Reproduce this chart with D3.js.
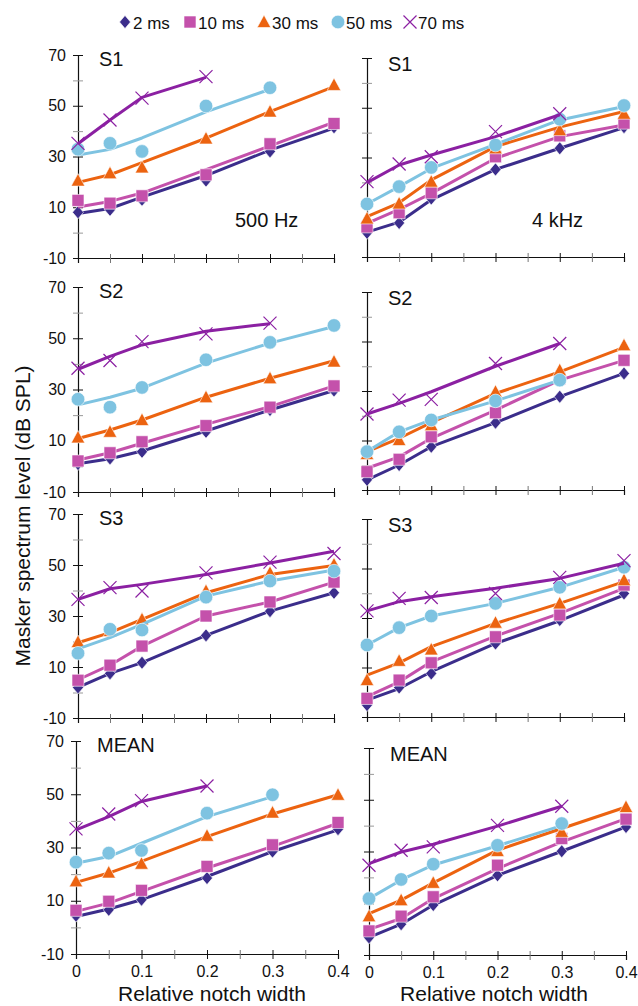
<!DOCTYPE html>
<html lang="en">
<head>
<meta charset="utf-8">
<title>Masker level vs notch width</title>
<script src="https://d3js.org/d3.v7.min.js"></script>
<style>
  body { margin: 0; background: #fff; font-family: "Liberation Sans", Arial, sans-serif; }
  .tick text { font-family: "Liberation Sans", Arial, sans-serif; font-size: 16px; fill: #111; }
</style>
</head>
<body>
<script>
// ---- data (dB SPL) ----
const widths = [0, 0.05, 0.1, 0.2, 0.3, 0.4];
const durations = ["2 ms", "10 ms", "30 ms", "50 ms", "70 ms"];
const subjects = ["S1", "S2", "S3", "MEAN"];
const freqs = ["500 Hz", "4 kHz"];

// measured thresholds, one row per duration (2,10,30,50,70 ms)
const s1Low = [[8, 9, 13, 20.5, 32, 41.5], [12.7, 11.6, 14.5, 22.8, 35, 43], [20.5, 23.4, 25.7, 37.1, 47.7, 58.2], [32.9, 35.2, 32, 49.9, 57.1], [35.2, 44.4, 53, 61.5]];
const s1High = [[-0.3, 3.7, 13.5, 25.2, 33.7, 42.2], [2.1, 7.8, 15.8, 30.3, 38.7, 43.8], [5.5, 11.5, 20.3, 33.7, 41, 47.6], [11.3, 18.3, 26, 35, 45.4, 50.9], [20.3, 27.4, 30.3, 40.4, 47.6]];
const s2Low = [[0.9, 3.1, 5.7, 13.5, 22, 29.6], [2.1, 5.3, 9.6, 15.9, 23.1, 31.4], [11.3, 13.5, 18.1, 27, 34.4, 40.9], [26.2, 23.1, 30.8, 41.6, 48.4, 55], [38.3, 41.3, 48.7, 51.7, 55.9]];
const s2High = [[-5.9, 0.1, 7.5, 17.2, 27.7, 37.1], [-2.6, 2.4, 11.5, 21.2, 35, 42.4], [4.5, 10.2, 16.2, 29.7, 38.4, 48.5], [5.5, 13.5, 18.3, 26, 34.4], [20.7, 26.3, 26.6, 41.1, 49.2]];
const s3Low = [[2, 7.5, 11.7, 22.4, 31.9, 39.1], [4.8, 10.7, 18.2, 30, 35.5, 43.3], [19.8, 24.1, 28.7, 39.8, 46.9, 50.2], [15.4, 24.8, 24.5, 37.4, 43.7, 47.6], [36.5, 41.1, 39.8, 46.9, 51.1, 54.5]];
const s3High = [[-5.2, 1.9, 7.6, 19.7, 29.2, 39.9], [-2.5, 4.9, 11.9, 22.4, 31.2, 43.3], [4.9, 12.7, 17.3, 28.1, 35.9, 45.3], [19.1, 26.1, 30.8, 35.9, 42.4, 50.5], [32.9, 37.9, 38.3, 39.9, 46.4, 53.2]];
const meanLow = [[4.4, 6.6, 10.4, 18.5, 28.5, 36.9], [6.4, 9.8, 13.9, 22.9, 31, 39.4], [17.3, 20.6, 23.9, 34.4, 43.1, 49.8], [24.5, 27.9, 28.9, 42.9, 49.8], [37, 42.6, 47.6, 53.1]];
const meanHigh = [[-3.2, 1.9, 9.3, 20.8, 30.1, 39.5], [-0.7, 5, 12.5, 24.7, 35, 42.5], [5, 11.2, 17.9, 30.2, 37.6, 47.2], [11.8, 19.2, 25.1, 32.4, 40.8], [24.7, 30.5, 31.8, 40.1, 47.5]];

// model fits drawn as lines
const s1LowFit = [[7.5, 9.5, 14, 22.5, 32.5, 41.2], [10.1, 12.3, 15.6, 24.8, 34.2, 43.5], [19.8, 22.8, 27.6, 37.2, 47.7, 57.5], [30.6, 32.8, 37.3, 47.6, 56.5], [35, 44.4, 53.3, 61.2]];
const s1HighFit = [[0, 4, 13, 25.2, 33.7, 42], [3.5, 9.1, 15.6, 29.7, 38.4, 43.1], [6.2, 11.8, 21, 34.4, 42.2, 48.5], [11.3, 18.3, 25.6, 35.3, 45.1, 50.5], [19.9, 27, 31, 38.4, 47.2]];
const s2LowFit = [[1, 3, 6, 13.8, 22, 29.6], [2.5, 5.3, 9, 16.4, 23.3, 31.4], [10.9, 14.2, 18.1, 27, 34.4, 41.2], [24, 27, 30.5, 40.3, 48.1, 54.6], [37.9, 42.9, 47.4, 52.7, 55.7]];
const s2HighFit = [[-5.9, 0.1, 7.5, 17.2, 27.7, 37.1], [-1.2, 3.4, 10.9, 22.3, 34.4, 42.4], [5.5, 10.9, 17.2, 29, 37.7, 47.6], [5.5, 13.5, 18.3, 26, 34.4], [20.7, 25, 29.7, 40, 49.2]];
const s3LowFit = [[2, 7.5, 11.7, 22.4, 31.9, 39.1], [5, 10.7, 18.2, 30, 35.5, 43.3], [19.5, 23.5, 28.7, 39.1, 46.3, 49.8], [17.1, 21.5, 26.7, 37.8, 43.7, 48], [36.5, 40.7, 42.4, 46.3, 50.8, 55.4]];
const s3HighFit = [[-3.2, 1.5, 8.3, 19.7, 28.9, 39.3], [-1.8, 4.2, 12.3, 22.7, 31.9, 42], [6.9, 11.9, 18.4, 27.8, 35.9, 44.7], [19.1, 26.1, 30.8, 35.9, 42.4, 50.5], [32.9, 36.6, 38.6, 42, 46, 52.1]];
const meanLowFit = [[4.1, 6.9, 10.4, 19.1, 28.5, 36.6], [6, 9.1, 13.5, 22.3, 30.4, 39.1], [16.9, 20.4, 24.8, 34.1, 42.6, 49.8], [24.1, 26.6, 31.6, 41.6, 49.1], [36.6, 41.6, 47.3, 53.1]];
const meanHighFit = [[-3.2, 1.9, 9.3, 20.8, 30.1, 39.5], [-0.1, 4.1, 11.8, 23.4, 33.7, 42.7], [6, 11.2, 17.9, 30.5, 38.9, 47.2], [11.8, 19, 24.8, 32.2, 40], [25.3, 29.8, 32.8, 39.8, 47.5]];

const yTicks = [-10, 0, 10, 20, 30, 40, 50, 60, 70];
const xTicks = [0, 0.05, 0.1, 0.15, 0.2, 0.25, 0.3, 0.35, 0.4];

// ---- layout ----
const W = 638, H = 1006;
const colors = ["#3b2d8b", "#c451ab", "#ec6310", "#7ec3e1", "#8b20a2"];
const shapes = ["diamond", "square", "triangle", "circle", "x"];

const panels = [
  { obs: s1Low, fit: s1LowFit, row: 0, col: 0 }, { obs: s1High, fit: s1HighFit, row: 0, col: 1 },
  { obs: s2Low, fit: s2LowFit, row: 1, col: 0 }, { obs: s2High, fit: s2HighFit, row: 1, col: 1 },
  { obs: s3Low, fit: s3LowFit, row: 2, col: 0 }, { obs: s3High, fit: s3HighFit, row: 2, col: 1 },
  { obs: meanLow, fit: meanLowFit, row: 3, col: 0 }, { obs: meanHigh, fit: meanHighFit, row: 3, col: 1 }
];
// pixel extents of each panel's plot area
const colX = [[[78, 334], [78, 334], [78, 334], [76, 338]], [[367, 624], [367, 624], [367, 624], [369, 626]]];
const rowY = [[[55, 258], [287, 492], [514, 718], [741, 954]], [[58, 257], [292, 490], [519, 717], [748, 955]]];

const svg = d3.select("body").append("svg").attr("width", W).attr("height", H);

function markerPath(shape) {
  switch (shape) {
    case "diamond": return "M0,-6.5L5.5,0L0,6.5L-5.5,0Z";
    case "square": return "M-6,-6H6V6H-6Z";
    case "triangle": return "M0,-7L6.8,5.5H-6.8Z";
    case "circle": return d3.symbol(d3.symbolCircle, Math.PI * 6.8 * 6.8)();
    default: return "M-6.5,-6.5L6.5,6.5M-6.5,6.5L6.5,-6.5";
  }
}

function drawMarker(g, shape, color) {
  const p = g.append("path").attr("d", markerPath(shape));
  if (shape === "x") p.attr("fill", "none").attr("stroke", color).attr("stroke-width", 1.2);
  else p.attr("fill", color).attr("stroke", "#fff").attr("stroke-width", 0.6);
}

panels.forEach(p => {
  const [xa, xb] = colX[p.col][p.row];
  const [ya, yb] = rowY[p.col][p.row];
  const x = d3.scaleLinear().domain([0, 0.4]).range([xa, xb]);
  const y = d3.scaleLinear().domain([-10, 70]).range([yb, ya]);
  const g = svg.append("g");

  // y axis
  const yAxis = g.append("g").attr("transform", `translate(${xa},0)`)
    .call(d3.axisLeft(y).tickValues(yTicks).tickSize(5)
      .tickFormat(d => (p.col === 0 && (d + 10) % 20 === 0) ? d : ""));
  yAxis.select(".domain").attr("stroke", "#111").attr("stroke-width", 1.2);
  yAxis.selectAll(".tick line").attr("x1", 5).attr("x2", -5)
    .attr("stroke", d => (d + 10) % 20 === 0 ? "#111" : "#999");
  yAxis.selectAll(".tick text").attr("x", -12);

  // x axis
  const xAxis = g.append("g").attr("transform", `translate(0,${yb})`)
    .call(d3.axisBottom(x).tickValues(xTicks).tickSize(5)
      .tickFormat(d => (p.row === 3 && Math.round(d * 100) % 10 === 0) ? d3.format("")(d) : ""));
  xAxis.select(".domain").attr("stroke", "#111").attr("stroke-width", 1.2);
  xAxis.selectAll(".tick line").attr("y1", -4).attr("y2", 5)
    .attr("stroke", d => Math.round(d * 100) % 10 === 0 ? "#111" : "#777");
  xAxis.selectAll(".tick text").attr("y", 12);

  // panel labels
  g.append("text").attr("x", xa + 21).attr("y", ya + 11 + (p.col === 1 ? 2 : 0))
    .attr("font-size", 20).attr("fill", "#111").text(subjects[p.row]);
  if (p.row === 0) {
    g.append("text").attr("x", p.col === 0 ? 235 : 532).attr("y", 227)
      .attr("font-size", 20).attr("fill", "#111").text(freqs[p.col]);
  }

  // series: fit line then markers, 2 ms first
  const line = d3.line().x((d, i) => x(widths[i])).y(d => y(d));
  p.obs.forEach((vals, si) => {
    g.append("path").datum(p.fit[si]).attr("d", line)
      .attr("fill", "none").attr("stroke", colors[si]).attr("stroke-width", 3)
      .attr("stroke-linejoin", "round");
    vals.forEach((v, i) => {
      const m = g.append("g").attr("transform", `translate(${x(widths[i])},${y(v)})`);
      drawMarker(m, shapes[si], colors[si]);
    });
  });
});

// axis titles
svg.append("text").attr("transform", "translate(30,516) rotate(-90)")
  .attr("text-anchor", "middle").attr("font-size", 21).attr("fill", "#111")
  .text("Masker spectrum level (dB SPL)");
[[212, "Relative notch width"], [494, "Relative notch width"]].forEach(([cx, t]) => {
  svg.append("text").attr("x", cx).attr("y", 1001).attr("text-anchor", "middle")
    .attr("font-size", 21).attr("fill", "#111").text(t);
});

// legend
const legendX = [125, 190, 264, 338, 410];
durations.forEach((d, i) => {
  const lg = svg.append("g").attr("transform", `translate(${legendX[i]},22)`);
  drawMarker(lg, shapes[i], colors[i]);
  lg.append("text").attr("x", 8).attr("y", 6.5).attr("font-size", 17).attr("fill", "#111").text(d);
});
</script>
</body>
</html>
